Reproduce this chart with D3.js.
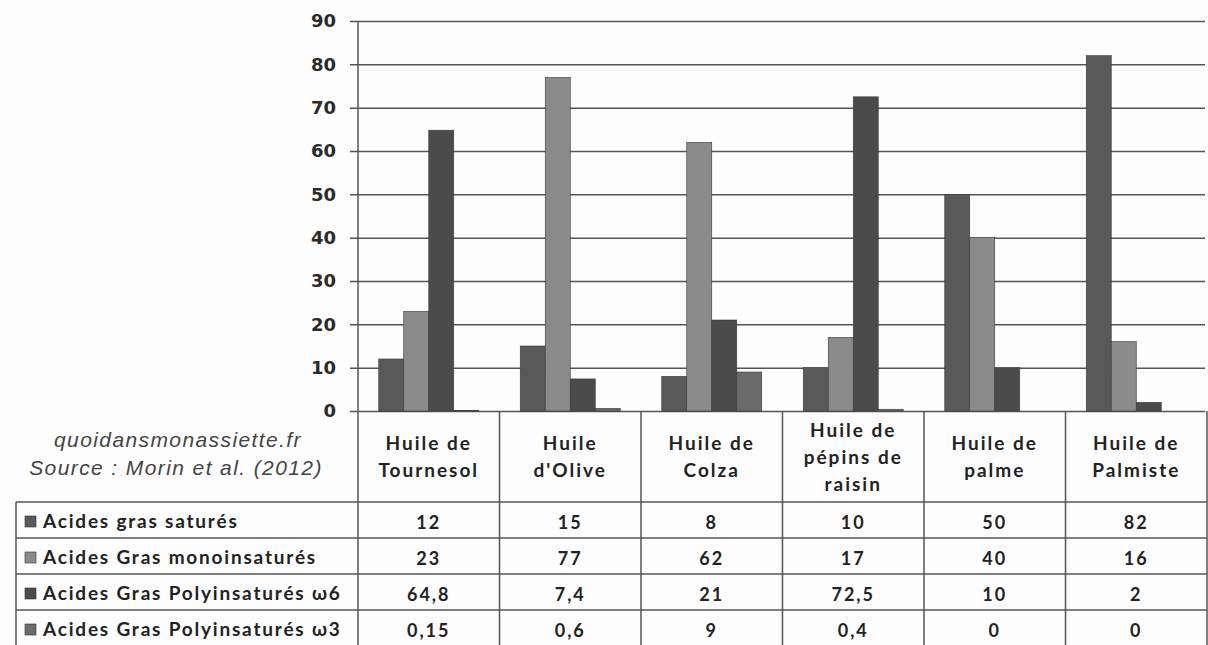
<!DOCTYPE html>
<html>
<head>
<meta charset="utf-8">
<script src="https://cdn.jsdelivr.net/npm/d3@7"></script>
<style>
  html, body { margin: 0; padding: 0; background: #fdfdfd; }
  svg { display: block; }
</style>
</head>
<body>
<div id="chart"></div>
<script>
// Fatty acid profile of cooking oils: grouped bars + Excel-style data table.
var categories = ["Huile de Tournesol", "Huile d'Olive", "Huile de Colza", "Huile de pépins de raisin", "Huile de palme", "Huile de Palmiste"];
var categoryLines = [["Huile de", "Tournesol"], ["Huile", "d'Olive"], ["Huile de", "Colza"], ["Huile de", "pépins de", "raisin"], ["Huile de", "palme"], ["Huile de", "Palmiste"]];
var seriesNames = ["Acides gras saturés", "Acides Gras monoinsaturés", "Acides Gras Polyinsaturés ω6", "Acides Gras Polyinsaturés ω3"];
var satures = [12, 15, 8, 10, 50, 82];
var monoinsatures = [23, 77, 62, 17, 40, 16];
var omega6 = [64.8, 7.4, 21, 72.5, 10, 2];
var omega3 = [0.15, 0.6, 9, 0.4, 0, 0];
var yTicks = [0, 10, 20, 30, 40, 50, 60, 70, 80, 90];
var seriesColors = ["#595959", "#8b8b8b", "#4b4b4b", "#6b6b6b"];

(function () {
  "use strict";

  var W = 1208, H = 645;
  var plot = { left: 358, right: 1207, top: 21, bottom: 411 };
  var tableLeft = 16, headerBottom = 502, rowH = 36;
  var lineColor = "#555";
  var tableFont = "Lato, 'Open Sans', sans-serif";

  var values = [satures, monoinsatures, omega6, omega3];

  var fr = d3.formatLocale({ decimal: ",", thousands: " ", grouping: [3], currency: ["", " €"] });
  var fmt = fr.format("~f");

  var svg = d3.select("#chart").append("svg")
    .attr("width", W)
    .attr("height", H);

  var x0 = d3.scaleBand().domain(categories).range([plot.left, plot.right]);
  var x1 = d3.scaleBand().domain(seriesNames).range([0, x0.bandwidth()]).paddingOuter(0.83);
  var y = d3.scaleLinear().domain([0, 90]).range([plot.bottom, plot.top]);

  // gridlines + y labels
  var yAxis = d3.axisLeft(y)
    .tickValues(yTicks)
    .tickSize(-(plot.right - plot.left - 2))
    .tickPadding(22)
    .tickFormat(d3.format("d"));

  var gy = svg.append("g")
    .attr("transform", "translate(" + plot.left + ",0)")
    .call(yAxis);
  gy.select(".domain").remove();
  gy.selectAll(".tick line")
    .attr("x1", -8)
    .attr("stroke", lineColor)
    .attr("stroke-width", 1.5);
  gy.selectAll(".tick text")
    .attr("font-family", "'DejaVu Sans', sans-serif")
    .attr("font-weight", "bold")
    .attr("font-size", "18px")
    .attr("fill", "#2a2a2a");

  // bars
  var flat = [];
  categories.forEach(function (c, i) {
    seriesNames.forEach(function (s, j) {
      flat.push({ cat: c, series: s, idx: j, value: values[j][i] });
    });
  });

  svg.append("g")
    .selectAll("rect")
    .data(flat)
    .join("rect")
    .attr("x", function (d) { return x0(d.cat) + x1(d.series); })
    .attr("y", function (d) { return y(d.value); })
    .attr("width", x1.bandwidth())
    .attr("height", function (d) { return y(0) - y(d.value); })
    .attr("fill", function (d) { return seriesColors[d.idx]; })
    .attr("stroke", "#3a3a3a")
    .attr("stroke-width", 0.6);

  // vertical axis line
  svg.append("line")
    .attr("x1", plot.left).attr("x2", plot.left)
    .attr("y1", plot.top).attr("y2", H)
    .attr("stroke", lineColor).attr("stroke-width", 1.5);

  // table: vertical separators
  var table = svg.append("g")
    .attr("stroke", lineColor)
    .attr("stroke-width", 1.5);

  categories.forEach(function (c) {
    var xr = x0(c) + x0.bandwidth();
    table.append("line")
      .attr("x1", xr).attr("x2", xr)
      .attr("y1", plot.bottom).attr("y2", H);
  });
  table.append("line")
    .attr("x1", tableLeft).attr("x2", tableLeft)
    .attr("y1", headerBottom).attr("y2", H);

  // table: horizontal lines
  d3.range(seriesNames.length + 1).forEach(function (r) {
    var yy = headerBottom + r * rowH;
    table.append("line")
      .attr("x1", tableLeft).attr("x2", plot.right)
      .attr("y1", yy).attr("y2", yy);
  });

  // category headers
  var headerMid = (plot.bottom + headerBottom) / 2;
  var lineGap = 27;
  categories.forEach(function (c, i) {
    var lines = categoryLines[i];
    var cx = x0(c) + x0.bandwidth() / 2;
    var t = svg.append("text")
      .attr("text-anchor", "middle")
      .attr("font-family", tableFont)
      .attr("font-weight", "bold")
      .attr("font-size", "19px")
      .attr("letter-spacing", "2px")
      .attr("fill", "#222");
    lines.forEach(function (ln, k) {
      t.append("tspan")
        .attr("x", cx)
        .attr("y", headerMid + 7 + (k - (lines.length - 1) / 2) * lineGap)
        .text(ln);
    });
  });

  // source note
  var note = svg.append("text")
    .attr("text-anchor", "middle")
    .attr("font-family", "'Liberation Sans', Arial, sans-serif")
    .attr("font-style", "italic")
    .attr("font-size", "21px")
    .attr("letter-spacing", "1.4px")
    .attr("fill", "#444");
  note.append("tspan").attr("x", 178).attr("y", 447).text("quoidansmonassiette.fr");
  note.append("tspan").attr("x", 176).attr("y", 475).text("Source : Morin et al. (2012)");

  // rows: legend key + values
  seriesNames.forEach(function (s, j) {
    var top = headerBottom + j * rowH;
    svg.append("rect")
      .attr("x", 25).attr("y", top + 14)
      .attr("width", 11).attr("height", 11)
      .attr("fill", seriesColors[j])
      .attr("stroke", "#333").attr("stroke-width", 0.6);
    svg.append("text")
      .attr("x", 43).attr("y", top + 26)
      .attr("font-family", tableFont)
      .attr("font-weight", "bold")
      .attr("font-size", "19px")
      .attr("letter-spacing", "1.8px")
      .attr("fill", "#222")
      .text(s);

    svg.append("g")
      .selectAll("text")
      .data(categories)
      .join("text")
      .attr("x", function (c) { return x0(c) + x0.bandwidth() / 2; })
      .attr("y", top + 27)
      .attr("text-anchor", "middle")
      .attr("font-family", tableFont)
      .attr("font-weight", "bold")
      .attr("font-size", "18px")
      .attr("letter-spacing", "2px")
      .attr("fill", "#222")
      .text(function (c, i) { return fmt(values[j][i]); });
  });
})();
</script>
</body>
</html>
